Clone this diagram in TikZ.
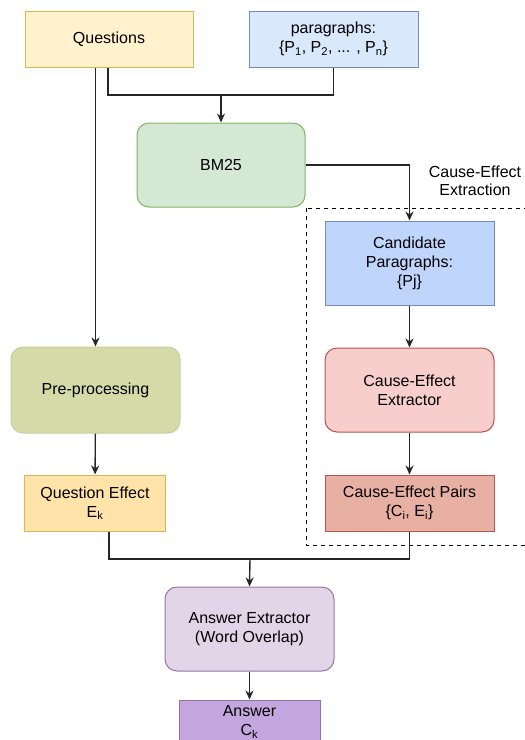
\documentclass[tikz,border=0pt]{standalone}
\usepackage{fontspec}
\setmainfont{Liberation Sans}
\usetikzlibrary{arrows.meta}
\definecolor{qfill}{HTML}{FFF2CC}\definecolor{qdraw}{HTML}{D6B656}
\definecolor{bfill}{HTML}{DAE8FC}\definecolor{bdraw}{HTML}{6C8EBF}
\definecolor{gfill}{HTML}{D5E8D4}\definecolor{gdraw}{HTML}{82B366}
\definecolor{cfill}{HTML}{BFD5FC}
\definecolor{rfill}{HTML}{F8CECC}\definecolor{rdraw}{HTML}{B85450}
\definecolor{pfill}{HTML}{E7B0A3}
\definecolor{ofill}{HTML}{D5DBA8}\definecolor{odraw}{HTML}{C6CFA2}
\definecolor{efill}{HTML}{FFE3A8}
\definecolor{vfill}{HTML}{E1D5E7}\definecolor{vdraw}{HTML}{9673A6}
\definecolor{afill}{HTML}{C4A6DE}
\tikzset{
  box/.style={draw, line width=1pt, align=center, inner sep=0pt, font=\fontsize{16}{19}\selectfont},
  rbox/.style={box, rounded corners=12pt},
  conn/.style={line width=1.4pt, draw=black!85},
  arr/.style={conn, -{Stealth[length=9pt,width=8pt]}},
}
\begin{document}
\begin{tikzpicture}[x=1pt,y=-1pt]
\useasboundingbox (0,0) rectangle (525,740);
\clip (0,0) rectangle (525,740);
\node[box, fill=qfill, draw=qdraw, minimum width=168pt, minimum height=56pt] (qs) at (109,39) {Questions};
\node[box, fill=bfill, draw=bdraw, minimum width=169pt, minimum height=56pt] (par) at (333.5,39) {paragraphs:\\\{P\textsubscript{1}, P\textsubscript{2}, ... , P\textsubscript{n}\}};
\node[rbox, fill=gfill, draw=gdraw, minimum width=168pt, minimum height=84pt] (bm) at (221,165) {BM25};
\node[box, fill=cfill, draw=bdraw, minimum width=169pt, minimum height=84pt] (cand) at (409.5,263) {Candidate\\Paragraphs:\\\{Pj\}};
\node[rbox, fill=rfill, draw=rdraw, minimum width=169pt, minimum height=84pt] (ext) at (409.5,390) {Cause-Effect\\Extractor};
\node[box, fill=pfill, draw=rdraw, minimum width=169pt, minimum height=56pt] (pairs) at (409.5,503) {Cause-Effect Pairs\\\{C\textsubscript{i}, E\textsubscript{i}\}};
\node[rbox, fill=ofill, draw=odraw, minimum width=169pt, minimum height=86pt] (pre) at (95.5,390) {Pre-processing};
\node[box, fill=efill, draw=qdraw, minimum width=141pt, minimum height=56pt] (qe) at (95,503) {Question Effect\\E\textsubscript{k}};
\node[rbox, fill=vfill, draw=vdraw, minimum width=169pt, minimum height=84pt] (ae) at (249.5,629) {Answer Extractor\\(Word Overlap)};
\node[box, fill=afill, draw=vdraw, minimum width=141pt, minimum height=50pt, text depth=9pt] (ans) at (249.5,725) {Answer\\C\textsubscript{k}};
\node[align=center, font=\fontsize{16}{18}\selectfont, inner sep=0pt] (lbl) at (475,181) {Cause-Effect\\Extraction};
\draw[dashed, dash pattern=on 4pt off 4pt, line width=1pt] (306,208) rectangle (540,545);
\coordinate (j1) at (221,95);
\coordinate (j2) at (250,559);
\draw[conn] (qs.south -| 108,0) |- (j1);
\draw[conn] (par.south) |- (j1);
\draw[arr] (j1) -- (bm.north);
\draw[arr] (qs.south -| pre.north) -- (pre.north);
\draw[arr] (bm.east) -| (cand.north);
\draw[arr] (cand) -- (ext);
\draw[arr] (ext) -- (pairs);
\draw[arr] (pre) -- (qe);
\draw[conn] (qe.south -| 109,0) |- (j2);
\draw[conn] (pairs.south) |- (j2);
\draw[arr] (j2) -- (ae.north);
\draw[arr] (ae.south) -- (ans.north);
\end{tikzpicture}
\end{document}
